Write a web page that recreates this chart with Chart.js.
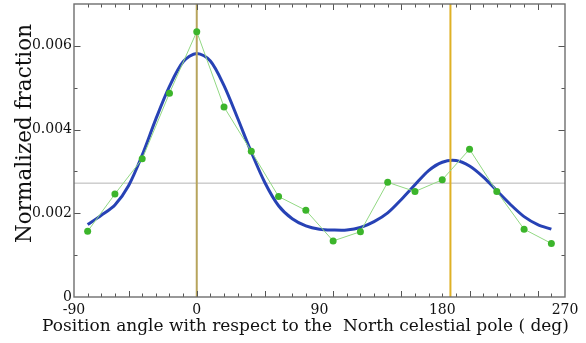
<!DOCTYPE html>
<html>
<head>
<meta charset="utf-8">
<script src="https://cdn.jsdelivr.net/npm/chart.js@4/dist/chart.umd.min.js"></script>
<style>
html,body{margin:0;padding:0;background:#fff;}
canvas{display:block;}
</style>
</head>
<body>
<canvas id="c" width="586" height="343"></canvas>
<script>
// ---- data ----
const pointAngles = [-80,-60,-40,-20,0,20,40,60,80,100,120,140,160,180,200,220,240,260];
const pointFractions = [0.00157,0.00246,0.00330,0.00487,0.00634,0.00454,0.00348,0.00240,0.00207,0.00134,0.00156,0.00274,0.00252,0.00280,0.00353,0.00252,0.00162,0.00128];

const fitAngles = [-80,-70,-60,-50,-40,-30,-20,-10,0,10,20,30,40,50,60,70,80,90,100,110,120,130,140,150,160,170,180,190,200,210,220,230,240,250,260];
const fitFractions = [0.00173,0.00195,0.00220,0.00266,0.00339,0.00425,0.00503,0.00562,0.00582,0.00564,0.00505,0.00427,0.00346,0.00273,0.00218,0.00187,0.00170,0.00162,0.00160,0.00160,0.00166,0.00180,0.00201,0.00233,0.00268,0.00302,0.00322,0.00326,0.00313,0.00287,0.00254,0.00221,0.00192,0.00173,0.00162];

const markerAngles = [0, 186];
const meanLevel = 0.00272;

const xTickValues = [-90,0,90,180,270];
const xTickLabels = ['-90','0','90','180','270'];
const yTickValues = [0,0.002,0.004,0.006];
const yTickLabels = ['0','0.002','0.004','0.006'];

const xRange = [-90,270];
const yRange = [0,0.007];

const xTitle = 'Position angle with respect to the  North celestial pole ( deg)';
const yTitle = 'Normalized fraction';

// ---- build datasets ----
const pts = pointAngles.map((a,i)=>({x:a,y:pointFractions[i]}));
const fit = fitAngles.map((a,i)=>({x:a,y:fitFractions[i]}));
const vline = a => [{x:a,y:yRange[0]},{x:a,y:yRange[1]}];

const framePlugin = {
  id:'frame',
  afterDatasetsDraw(chart){
    const {ctx, chartArea:ca, scales:{x,y}} = chart;
    ctx.save();
    ctx.strokeStyle = '#555';
    ctx.lineWidth = 1;
    ctx.beginPath();
    for(let v=-80; v<270; v+=10){
      const px = Math.round(x.getPixelForValue(v))+0.5;
      const len = (v % 50 === 0) ? 6 : 3.5;
      ctx.moveTo(px, ca.bottom); ctx.lineTo(px, ca.bottom-len);
      ctx.moveTo(px, ca.top); ctx.lineTo(px, ca.top+len);
    }
    for(let k=1; k<=6; k++){
      const v = k*0.001;
      const py = Math.round(y.getPixelForValue(v))+0.5;
      const len = (k % 2 === 0) ? 6.5 : 3.5;
      ctx.moveTo(ca.left, py); ctx.lineTo(ca.left+len, py);
      ctx.moveTo(ca.right, py); ctx.lineTo(ca.right-len, py);
    }
    ctx.stroke();
    ctx.strokeStyle = '#6e6e6e';
    ctx.lineWidth = 1.4;
    ctx.strokeRect(ca.left, ca.top, ca.right-ca.left, ca.bottom-ca.top);
    ctx.restore();
  },
  afterDraw(chart){
    const {ctx} = chart;
    ctx.save();
    ctx.fillStyle = '#111';
    ctx.font = '17px "DejaVu Serif"';
    ctx.textAlign = 'center';
    ctx.textBaseline = 'alphabetic';
    ctx.fillText(xTitle, 305.5, 331);
    ctx.translate(31, 133.5);
    ctx.rotate(-Math.PI/2);
    ctx.font = '21.5px "DejaVu Serif"';
    ctx.fillText(yTitle, 0, 0);
    ctx.restore();
  }
};

new Chart(document.getElementById('c'), {
  type:'scatter',
  data:{
    datasets:[
      {data:pts, showLine:true, borderColor:'#92d883', borderWidth:1, pointRadius:3.5, pointBackgroundColor:'#3cb52b', pointBorderWidth:0, order:0},
      {data:vline(markerAngles[0]), showLine:true, borderColor:'#b7a45c', borderWidth:2, pointRadius:0, order:1},
      {data:vline(markerAngles[1]), showLine:true, borderColor:'#dfb126', borderWidth:2, pointRadius:0, order:1},
      {data:fit, showLine:true, borderColor:'#2742b5', borderWidth:3, pointRadius:0, tension:0.3, order:2},
      {data:[{x:xRange[0],y:meanLevel},{x:xRange[1],y:meanLevel}], showLine:true, borderColor:'#b4b4b4', borderWidth:1, pointRadius:0, order:3}
    ]
  },
  options:{
    responsive:false,
    animation:false,
    devicePixelRatio:1,
    layout:{padding:{top:3,right:21,left:0,bottom:0}},
    plugins:{legend:{display:false}, tooltip:{enabled:false}},
    scales:{
      x:{
        type:'linear', min:xRange[0], max:xRange[1],
        afterBuildTicks(s){ s.ticks = xTickValues.map(v=>({value:v})); },
        afterFit(s){ s.height = 46; s.paddingLeft = 0; s.paddingRight = 0; },
        grid:{display:false, drawTicks:false},
        border:{display:false},
        ticks:{padding:5, color:'#111', font:{family:'DejaVu Serif', size:14}, maxRotation:0, autoSkip:false,
          callback:(v)=>{const i=xTickValues.indexOf(v); return i>=0?xTickLabels[i]:'';}}
      },
      y:{
        type:'linear', min:yRange[0], max:yRange[1],
        afterBuildTicks(s){ s.ticks = yTickValues.map(v=>({value:v})); },
        afterFit(s){ s.width = 74; s.paddingTop = 0; s.paddingBottom = 0; },
        grid:{display:false, drawTicks:false},
        border:{display:false},
        ticks:{padding:2, color:'#111', font:{family:'DejaVu Serif', size:14}, autoSkip:false,
          callback:(v)=>{const i=yTickValues.findIndex(t=>Math.abs(t-v)<1e-9); return i>=0?yTickLabels[i]:'';}}
      }
    }
  },
  plugins:[framePlugin]
});
</script>
</body>
</html>
